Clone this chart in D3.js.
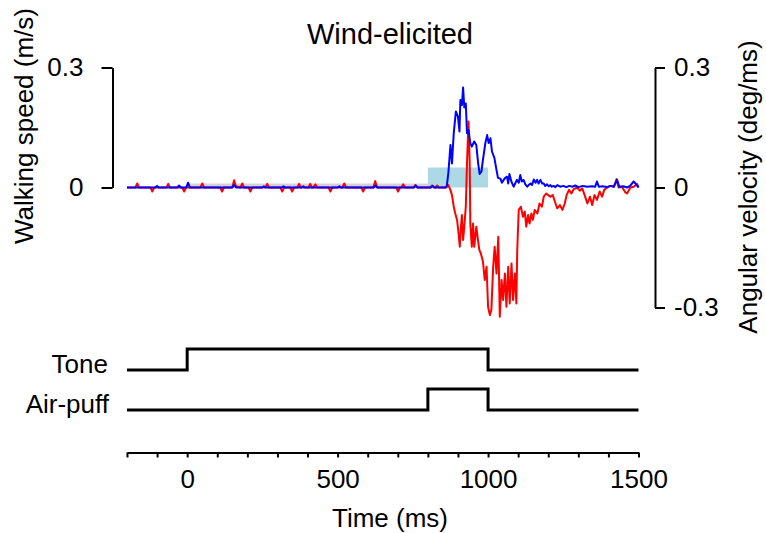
<!DOCTYPE html>
<html>
<head>
<meta charset="utf-8">
<script src="https://cdn.jsdelivr.net/npm/d3@7/dist/d3.min.js"></script>
<style>
  html, body { margin: 0; padding: 0; background: #fff; }
  svg { display: block; }
  text { font-family: "Liberation Sans", Arial, Helvetica, sans-serif; fill: #000; }
</style>
</head>
<body>
<svg id="chart" width="766" height="533"></svg>
<script>
// ---------------- DATA ----------------
const title = "Wind-elicited";
const xLabel = "Time (ms)";
const yLeftLabel = "Walking speed (m/s)";
const yRightLabel = "Angular velocity (deg/ms)";

const xTickValues = [-200,-100,0,100,200,300,400,500,600,700,800,900,1000,1100,1200,1300,1400,1500];
const xTickLabels = [0, 500, 1000, 1500];
const yLeftTicks = [0, 0.3];
const yRightTicks = [-0.3, 0, 0.3];

// Shaded windows: [start ms, end ms, height (m/s)]
const baselineWindow = [0, 800, 0.01];
const puffWindow = [800, 1000, 0.05];

// Stimulus timing: [time ms, level] (step after)
const toneSteps = [[-200, 0], [0, 1], [1000, 0], [1500, 0]];
const puffSteps = [[-200, 0], [800, 1], [1000, 0], [1500, 0]];

// Walking speed (m/s), blue: [time ms, value]
const walkingSpeed = [
  [-200,0],[-106,0],[-100,0.004],[-94,0],[-33,0],[-27,0.005],[-21,0],[-3,0],[3,0.012],[9,0],
  [150,0],[156,0.007],[162,0],[249,0],[255,0.003],[261,0],[314,0],[320,0.003],[326,0],
  [380,0],[386,0.003],[392,0],[500,0],[506,0.003],[512,0],[620,0],[626,0.005],[632,0],
  [754,0],[760,0.005],[766,0],[810,0],[816,0.004],[822,0],[858,0],[863,0.004],
  [868,0.036],[875,0.106],[880,0.06],[886,0.136],[893,0.19],[900,0.177],[905,0.14],
  [908,0.219],[913,0.206],[917,0.25],[921,0.2],[926,0.21],[930,0.136],[935,0.144],
  [941,0.111],[946,0.102],[954,0.115],[961,0.106],[967,0.061],[972,0.034],[978,0.04],
  [983,0.069],[991,0.111],[997,0.131],[1002,0.111],[1008,0.123],[1013,0.09],[1021,0.074],
  [1028,0.044],[1033,0.024],[1041,0.022],[1046,0.012],[1052,0.019],[1057,0.024],[1063,0.027],
  [1067,0.01],[1071,0.034],[1078,0.014],[1085,0.002],[1090,0.01],[1096,0.019],[1102,0.012],
  [1107,0.031],[1112,0.015],[1118,0.019],[1124,0.008],[1130,0.002],[1135,0.006],[1141,0.01],
  [1146,0.006],[1152,0.02],[1158,0.012],[1163,0.019],[1168,0.01],[1174,0.019],[1180,0.01],
  [1185,0.01],[1190,0.004],[1196,0.008],[1202,0.003],[1207,0.006],[1212,0.002],[1218,0.004],
  [1224,0.001],[1230,0.006],[1240,0.002],[1250,0.004],[1260,0.001],[1270,0.004],[1280,0.002],
  [1290,0.005],[1300,0.001],[1315,0.004],[1330,0.002],[1345,0.003],[1356,0.002],[1362,0.015],
  [1368,0.002],[1380,0.003],[1395,0.001],[1407,0.004],[1418,0.002],[1429,0.019],[1436,0.002],
  [1450,0.003],[1462,0],[1472,0.004],[1484,0.015],[1490,0.01],[1496,0.004],[1500,0]
];

// Angular velocity (deg/ms), red: [time ms, value]
const angularVelocity = [
  [-200,0],[-172,0],[-166,0.01],[-160,0],[-122,0],[-116,-0.01],[-110,0],
  [-69,0],[-63,0.009],[-57,0],[-16,0],[-10,-0.01],[-4,0],
  [44,0],[50,0.01],[56,0],[110,0],[116,-0.01],[122,0],
  [150,0],[156,0.018],[162,0.003],[177,0],[183,0.01],[189,0],
  [204,0],[210,-0.01],[216,0],[260,0],[266,0.009],[272,0],
  [310,0],[316,-0.01],[322,0],[343,0],[349,-0.01],[355,0],
  [366,0],[372,0.009],[378,0],[403,0],[409,0.009],[415,0],[420,0],[426,0.008],[432,0],
  [470,0],[476,-0.01],[482,0],[516,0],[522,0.01],[528,0],
  [579,0],[585,-0.01],[591,0],[619,0],[625,0.016],[631,0],
  [695,0],[701,-0.01],[707,0],[712,0],[718,0.008],[724,0],
  [752,0],[758,0.006],[764,0],[808,0],[814,0.005],[820,0],[825,0],[831,0.005],[837,0],
  [862,0],[868,0.006],[875,-0.006],[880,-0.019],[886,-0.048],[891,-0.065],[897,-0.081],
  [902,-0.115],[906,-0.148],[910,-0.098],[913,-0.069],[917,-0.131],[921,-0.098],[926,-0.048],
  [930,0.06],[935,0.165],[939,0.06],[941,-0.09],[946,-0.148],[950,-0.09],[954,-0.148],
  [961,-0.098],[965,-0.123],[971,-0.156],[976,-0.165],[983,-0.185],[989,-0.231],[995,-0.198],
  [1000,-0.298],[1006,-0.319],[1011,-0.306],[1017,-0.198],[1022,-0.148],[1028,-0.215],
  [1034,-0.123],[1039,-0.323],[1045,-0.231],[1050,-0.281],[1056,-0.215],[1061,-0.298],
  [1067,-0.198],[1072,-0.29],[1078,-0.19],[1083,-0.281],[1089,-0.215],[1094,-0.29],
  [1097,-0.156],[1102,-0.056],[1109,-0.048],[1116,-0.073],[1122,-0.06],[1127,-0.098],
  [1133,-0.069],[1138,-0.09],[1144,-0.065],[1149,-0.081],[1155,-0.056],[1164,-0.065],
  [1171,-0.04],[1179,-0.048],[1185,-0.023],[1193,-0.015],[1200,-0.019],[1207,-0.023],
  [1215,-0.019],[1222,-0.035],[1230,-0.052],[1239,-0.044],[1247,-0.056],[1255,-0.04],
  [1261,-0.019],[1269,-0.006],[1277,-0.015],[1285,-0.004],[1296,0],[1305,-0.008],
  [1313,-0.002],[1321,-0.019],[1330,-0.04],[1339,-0.023],[1346,-0.044],[1354,-0.019],
  [1362,-0.031],[1371,-0.01],[1379,-0.023],[1386,-0.006],[1395,0],[1407,0.004],
  [1418,0.002],[1427,0.021],[1434,0],[1445,0.002],[1456,-0.012],[1462,-0.015],
  [1473,0],[1484,0.002],[1495,0.009],[1500,0]
];

// ---------------- DRAWING ----------------
const svg = d3.select("#chart");
const FONT = 26;

const x = d3.scaleLinear().domain([-200, 1500]).range([127, 638.5]);
const yL = d3.scaleLinear().domain([0, 0.3]).range([187.5, 67.5]);
const yR = d3.scaleLinear().domain([-0.3, 0.3]).range([307.5, 67.5]);
const yTone = d3.scaleLinear().domain([0, 1]).range([370, 349]);
const yPuff = d3.scaleLinear().domain([0, 1]).range([410, 389]);

const fmt = d => d === 0 ? "0" : (d < 0 ? "-" + Math.abs(d) : String(d));

// title
svg.append("text").attr("x", 390).attr("y", 44).attr("text-anchor", "middle")
  .style("font-size", "29px").text(title);

// shaded windows
svg.append("rect")
  .attr("x", x(baselineWindow[0])).attr("width", x(baselineWindow[1]) - x(baselineWindow[0]))
  .attr("y", yL(baselineWindow[2])).attr("height", yL(0) - yL(baselineWindow[2]))
  .attr("fill", "#d3d3d3");
svg.append("rect")
  .attr("x", x(puffWindow[0])).attr("width", x(puffWindow[1]) - x(puffWindow[0]))
  .attr("y", yL(puffWindow[2])).attr("height", yL(0) - yL(puffWindow[2]))
  .attr("fill", "#add8e6");

// traces
svg.append("path").datum(angularVelocity)
  .attr("fill", "none").attr("stroke", "#ff0000").attr("stroke-width", 2)
  .attr("stroke-linejoin", "round")
  .attr("d", d3.line().x(d => x(d[0])).y(d => yR(d[1])));
svg.append("path").datum(walkingSpeed)
  .attr("fill", "none").attr("stroke", "#0000ff").attr("stroke-width", 2)
  .attr("stroke-linejoin", "round")
  .attr("d", d3.line().x(d => x(d[0])).y(d => yL(d[1])));

// left axis
const gL = svg.append("g").attr("transform", "translate(112.5,0)")
  .call(d3.axisLeft(yL).tickValues(yLeftTicks).tickFormat(fmt)
    .tickSize(11).tickSizeOuter(0).tickPadding(18));
// right axis
const gR = svg.append("g").attr("transform", "translate(655,0)")
  .call(d3.axisRight(yR).tickValues(yRightTicks).tickFormat(fmt)
    .tickSize(10).tickSizeOuter(0).tickPadding(9));
// bottom axis
const gB = svg.append("g").attr("transform", "translate(0,452.5)")
  .call(d3.axisBottom(x).tickValues(xTickValues)
    .tickFormat(d => xTickLabels.includes(d) ? String(d) : "")
    .tickSize(5).tickSizeOuter(0).tickPadding(12));

[gL, gR, gB].forEach(g => {
  g.selectAll("path.domain").attr("stroke", "#000").attr("stroke-width", 2);
  g.selectAll(".tick line").attr("stroke", "#000").attr("stroke-width", 2);
  g.selectAll(".tick text").style("font-size", FONT + "px")
    .style("font-family", "'Liberation Sans', Arial, sans-serif").attr("fill", "#000");
});

// axis labels
svg.append("text").attr("transform", "translate(33,126) rotate(-90)")
  .attr("text-anchor", "middle").style("font-size", FONT + "px").text(yLeftLabel);
svg.append("text").attr("transform", "translate(757,187) rotate(-90)")
  .attr("text-anchor", "middle").style("font-size", FONT + "px").text(yRightLabel);
svg.append("text").attr("x", 390).attr("y", 527).attr("text-anchor", "middle")
  .style("font-size", FONT + "px").text(xLabel);

// stimulus traces
const stepLine = yS => d3.line().curve(d3.curveStepAfter).x(d => x(d[0])).y(d => yS(d[1]));
svg.append("path").datum(toneSteps).attr("fill", "none").attr("stroke", "#000")
  .attr("stroke-width", 3).attr("stroke-linejoin", "miter").attr("d", stepLine(yTone));
svg.append("path").datum(puffSteps).attr("fill", "none").attr("stroke", "#000")
  .attr("stroke-width", 3).attr("stroke-linejoin", "miter").attr("d", stepLine(yPuff));

svg.append("text").attr("x", 108).attr("y", 373).attr("text-anchor", "end")
  .style("font-size", FONT + "px").text("Tone");
svg.append("text").attr("x", 109).attr("y", 413).attr("text-anchor", "end")
  .style("font-size", FONT + "px").text("Air-puff");
</script>
</body>
</html>
